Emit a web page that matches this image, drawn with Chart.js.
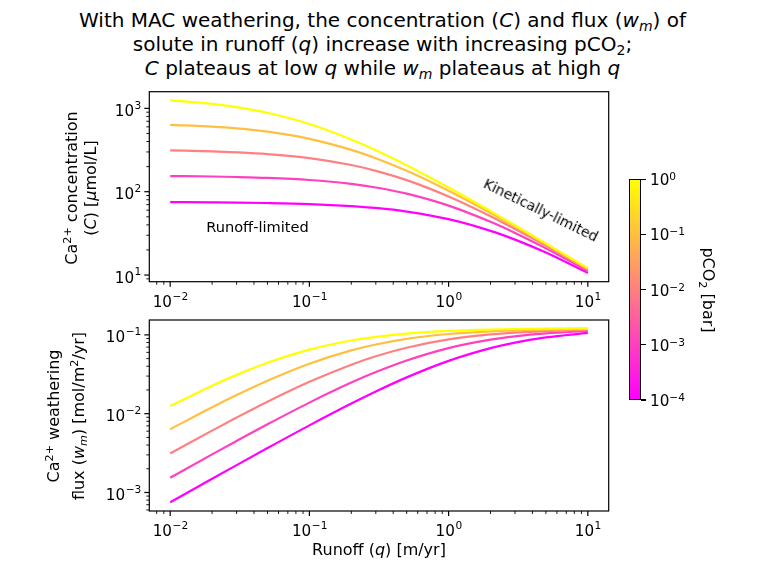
<!DOCTYPE html>
<html><head><meta charset="utf-8">
<script src="https://cdn.jsdelivr.net/npm/chart.js@4.4.1/dist/chart.umd.min.js"></script>
<style>
html,body{margin:0;padding:0;background:#fff;width:765px;height:574px;overflow:hidden;font-family:"DejaVu Sans",sans-serif;color:#000}
#c1wrap{position:absolute;left:0;top:0;width:765px;height:310px}
#c2wrap{position:absolute;left:0;top:310px;width:765px;height:264px}
.title{position:absolute;left:0;width:765px;top:8px;text-align:center;font-size:20px;line-height:24px;white-space:nowrap}
sub{font-size:70%;line-height:0;vertical-align:-0.3em}
sup{font-size:70%;line-height:0;vertical-align:0.5em}
.lbl{position:absolute;font-size:16px;white-space:nowrap;text-align:center}
.rotl{transform:translate(-50%,-50%) rotate(-90deg)}
.rotr{transform:translate(-50%,-50%) rotate(90deg)}
.ctr{transform:translate(-50%,-50%)}
#cbar{position:absolute;left:629.3px;top:179.3px;width:11.4px;height:220.7px;box-sizing:border-box;border:1.2px solid #000;background:linear-gradient(to bottom,#ffff00,#ff00ff)}
.cbtick{position:absolute;left:640.7px;width:5px;height:1.2px;background:#000}
.cblab{position:absolute;left:650px;font-size:15.2px;white-space:nowrap;transform:translateY(-42%)}
</style></head>
<body>
<div class="title">With MAC weathering, the concentration (<i>C</i>) and flux (<i>w<sub>m</sub></i>) of<br>solute in runoff (<i>q</i>) increase with increasing pCO<sub>2</sub>;<br><i>C</i> plateaus at low <i>q</i> while <i>w<sub>m</sub></i> plateaus at high <i>q</i></div>
<div id="c1wrap"><canvas id="c1" width="765" height="310"></canvas></div>
<div id="c2wrap"><canvas id="c2" width="765" height="264"></canvas></div>
<div class="lbl rotl" style="left:81px;top:188px;line-height:19px">Ca<sup>2+</sup> concentration<br>(<i>C</i>) [<i>μ</i>mol/L]</div>
<div class="lbl rotl" style="left:66px;top:416px;line-height:25px">Ca<sup>2+</sup> weathering<br>flux (<i>w<sub>m</sub></i>) [mol/m<sup>2</sup>/yr]</div>
<div class="lbl ctr" style="left:379px;top:549px">Runoff (<i>q</i>) [m/yr]</div>
<div class="lbl ctr" style="left:257.5px;top:226px;font-size:14.6px">Runoff-limited</div>
<div class="lbl" style="left:541px;top:210px;font-size:14px;transform:translate(-50%,-50%) rotate(26deg)">Kinetically-limited</div>
<div id="cbar"></div>
<div id="cbticks"></div>
<div class="lbl rotr" style="left:708.3px;top:290px">pCO<sub>2</sub> [bar]</div>
<script>
// ---- data ----
const runoff = [0.01, 0.02, 0.03, 0.05, 0.1, 0.2, 0.3, 0.5, 1, 2, 3, 5, 10];
const pco2 = [1, 0.1, 0.01, 0.001, 0.0001];
const concP1     = [1248, 1133, 1036, 886, 650, 424, 315, 208, 112.3, 58.5, 39.6, 24.0, 12.1];
const concP01    = [635, 603, 575, 525, 431, 318, 252, 178, 102.6, 55.6, 38.1, 23.4, 11.9];
const concP001   = [313, 305, 297, 283, 253.5, 209, 178, 137.6, 87.5, 50.7, 35.6, 22.4, 11.6];
const concP0001  = [154, 152.1, 150.2, 146.6, 138.2, 124, 112.4, 94.8, 68.1, 43.5, 32.0, 20.9, 11.2];
const concP00001 = [75, 74.5, 74.1, 73.2, 71.1, 67.2, 63.8, 57.8, 46.8, 33.9, 26.6, 18.6, 10.6];
const fluxP1     = [0.01248, 0.02265, 0.03109, 0.04431, 0.06503, 0.08489, 0.09451, 0.10393, 0.11233, 0.11705, 0.11872, 0.12009, 0.12114];
const fluxP01    = [0.00635, 0.01207, 0.01724, 0.02625, 0.04314, 0.06363, 0.07559, 0.08898, 0.1026, 0.1111, 0.11426, 0.11692, 0.1190];
const fluxP001   = [0.003129, 0.006099, 0.008922, 0.01417, 0.02535, 0.04188, 0.05351, 0.06878, 0.08752, 0.1013, 0.1069, 0.1119, 0.1160];
const fluxP0001  = [0.001541, 0.003042, 0.004507, 0.007329, 0.01382, 0.02480, 0.03373, 0.04739, 0.06806, 0.08704, 0.09596, 0.1045, 0.1120];
const fluxP00001 = [0.00075, 0.001491, 0.002223, 0.003661, 0.007111, 0.01345, 0.01913, 0.02889, 0.04681, 0.06786, 0.07982, 0.09293, 0.1060];
const xTicks = [0.01, 0.1, 1, 10];
const xTickLabels = ['10^−2', '10^−1', '10^0', '10^1'];
const yTopTicks = [10, 100, 1000];
const yTopTickLabels = ['10^1', '10^2', '10^3'];
const yBotTicks = [0.001, 0.01, 0.1];
const yBotTickLabels = ['10^−3', '10^−2', '10^−1'];
const cbTicks = [1, 0.1, 0.01, 0.001, 0.0001];
const cbTickLabels = ['10^0', '10^−1', '10^−2', '10^−3', '10^−4'];

// spring colormap over log10(pCO2) in [-4, 0]
function spring(p) {
  const t = (Math.log10(p) + 4) / 4;
  return 'rgb(255,' + Math.round(255 * t) + ',' + Math.round(255 * (1 - t)) + ')';
}

const FS = 15.2;

function logTicks(min, max) {
  const out = [];
  for (let e = Math.floor(Math.log10(min)); e <= Math.ceil(Math.log10(max)); e++) {
    for (let m = 1; m <= 9; m++) {
      const v = Number((m * Math.pow(10, e)).toPrecision(12));
      if (v >= min && v <= max) out.push({value: v});
    }
  }
  return out;
}
function isMajor(v) { const l = Math.log10(v); return Math.abs(l - Math.round(l)) < 1e-9; }

function drawPow(ctx, label, x, baseline, align) {
  const parts = label.split('^');
  const SF = FS * 0.7;
  ctx.font = FS + 'px "DejaVu Sans"';
  const wb = ctx.measureText(parts[0]).width;
  ctx.font = SF + 'px "DejaVu Sans"';
  const we = ctx.measureText(parts[1]).width;
  const x0 = align === 'center' ? x - (wb + we) / 2 : x - (wb + we);
  ctx.textAlign = 'left';
  ctx.textBaseline = 'alphabetic';
  ctx.fillStyle = '#000';
  ctx.font = FS + 'px "DejaVu Sans"';
  ctx.fillText(parts[0], x0, baseline);
  ctx.font = SF + 'px "DejaVu Sans"';
  ctx.fillText(parts[1], x0 + wb + 0.5, baseline - 0.47 * FS);
}

const framePlugin = {
  id: 'frame',
  afterDraw(chart) {
    const ctx = chart.ctx, a = chart.chartArea;
    const cfg = chart.options.plugins.frame;
    ctx.save();
    ctx.strokeStyle = '#000';
    ['x', 'y'].forEach(id => {
      const s = chart.scales[id];
      s.ticks.forEach(t => {
        const maj = isMajor(t.value);
        const len = maj ? 5 : 3;
        ctx.lineWidth = maj ? 1.2 : 0.9;
        ctx.beginPath();
        const p = s.getPixelForValue(t.value);
        if (id === 'x') { ctx.moveTo(p, a.bottom); ctx.lineTo(p, a.bottom + len); }
        else { ctx.moveTo(a.left, p); ctx.lineTo(a.left - len, p); }
        ctx.stroke();
      });
    });
    ctx.lineWidth = 1.2;
    ctx.strokeRect(a.left, a.top, a.right - a.left, a.bottom - a.top);
    // tick labels
    cfg.xTicks.forEach((v, i) => {
      drawPow(ctx, cfg.xLabels[i], chart.scales.x.getPixelForValue(v), a.bottom + 25, 'center');
    });
    cfg.yTicks.forEach((v, i) => {
      drawPow(ctx, cfg.yLabels[i], a.left - 8.5, chart.scales.y.getPixelForValue(v) + 7.6, 'right');
    });
    ctx.restore();
  }
};

function makeChart(canvasId, series, yMin, yMax, yTickVals, yTickLabs, padTop, xAxisH) {
  const datasets = series.map((vals, i) => ({
    data: runoff.map((q, j) => ({x: q, y: vals[j]})),
    borderColor: spring(pco2[i]),
    borderWidth: 2.2,
    pointRadius: 0,
    fill: false,
    cubicInterpolationMode: 'monotone'
  }));
  const xMin = Math.pow(10, -2.15), xMax = Math.pow(10, 1.15);
  return new Chart(document.getElementById(canvasId), {
    type: 'line',
    data: {datasets},
    plugins: [framePlugin],
    options: {
      responsive: false,
      animation: false,
      events: [],
      layout: {padding: {left: 0, top: padTop, right: 765 - 608.7, bottom: 0}},
      plugins: {
        legend: {display: false}, tooltip: {enabled: false},
        frame: {xTicks: xTicks, xLabels: xTickLabels, yTicks: yTickVals, yLabels: yTickLabs}
      },
      scales: {
        x: {
          type: 'logarithmic', min: xMin, max: xMax, bounds: 'data',
          grid: {display: false, drawTicks: false},
          border: {display: false},
          afterBuildTicks: s => { s.ticks = logTicks(xMin, xMax); },
          afterFit: s => { s.height = xAxisH; },
          ticks: {display: false, autoSkip: false, maxRotation: 0}
        },
        y: {
          type: 'logarithmic', min: yMin, max: yMax, bounds: 'data',
          grid: {display: false, drawTicks: false},
          border: {display: false},
          afterBuildTicks: s => { s.ticks = logTicks(yMin, yMax); },
          afterFit: s => { s.width = 149.3; },
          ticks: {display: false, autoSkip: false}
        }
      }
    }
  });
}

makeChart('c1', [concP1, concP01, concP001, concP0001, concP00001],
  Math.pow(10, 0.92), Math.pow(10, 3.2), yTopTicks, yTopTickLabels, 91.7, 310 - 281.7);
makeChart('c2', [fluxP1, fluxP01, fluxP001, fluxP0001, fluxP00001],
  Math.pow(10, -3.235), Math.pow(10, -0.811), yBotTicks, yBotTickLabels, 10, 264 - 201);

// colorbar ticks
(function () {
  const top = 179.3, h = 220.7, wrap = document.getElementById('cbticks');
  cbTicks.forEach((p, i) => {
    const y = top + (0 - Math.log10(p)) / 4 * h;
    const t = document.createElement('div');
    t.className = 'cbtick'; t.style.top = (y - 0.6) + 'px';
    wrap.appendChild(t);
    const parts = cbTickLabels[i].split('^');
    const l = document.createElement('div');
    l.className = 'cblab'; l.style.top = y + 'px';
    l.innerHTML = parts[0] + '<sup>' + parts[1] + '</sup>';
    wrap.appendChild(l);
  });
})();
</script>
</body></html>
